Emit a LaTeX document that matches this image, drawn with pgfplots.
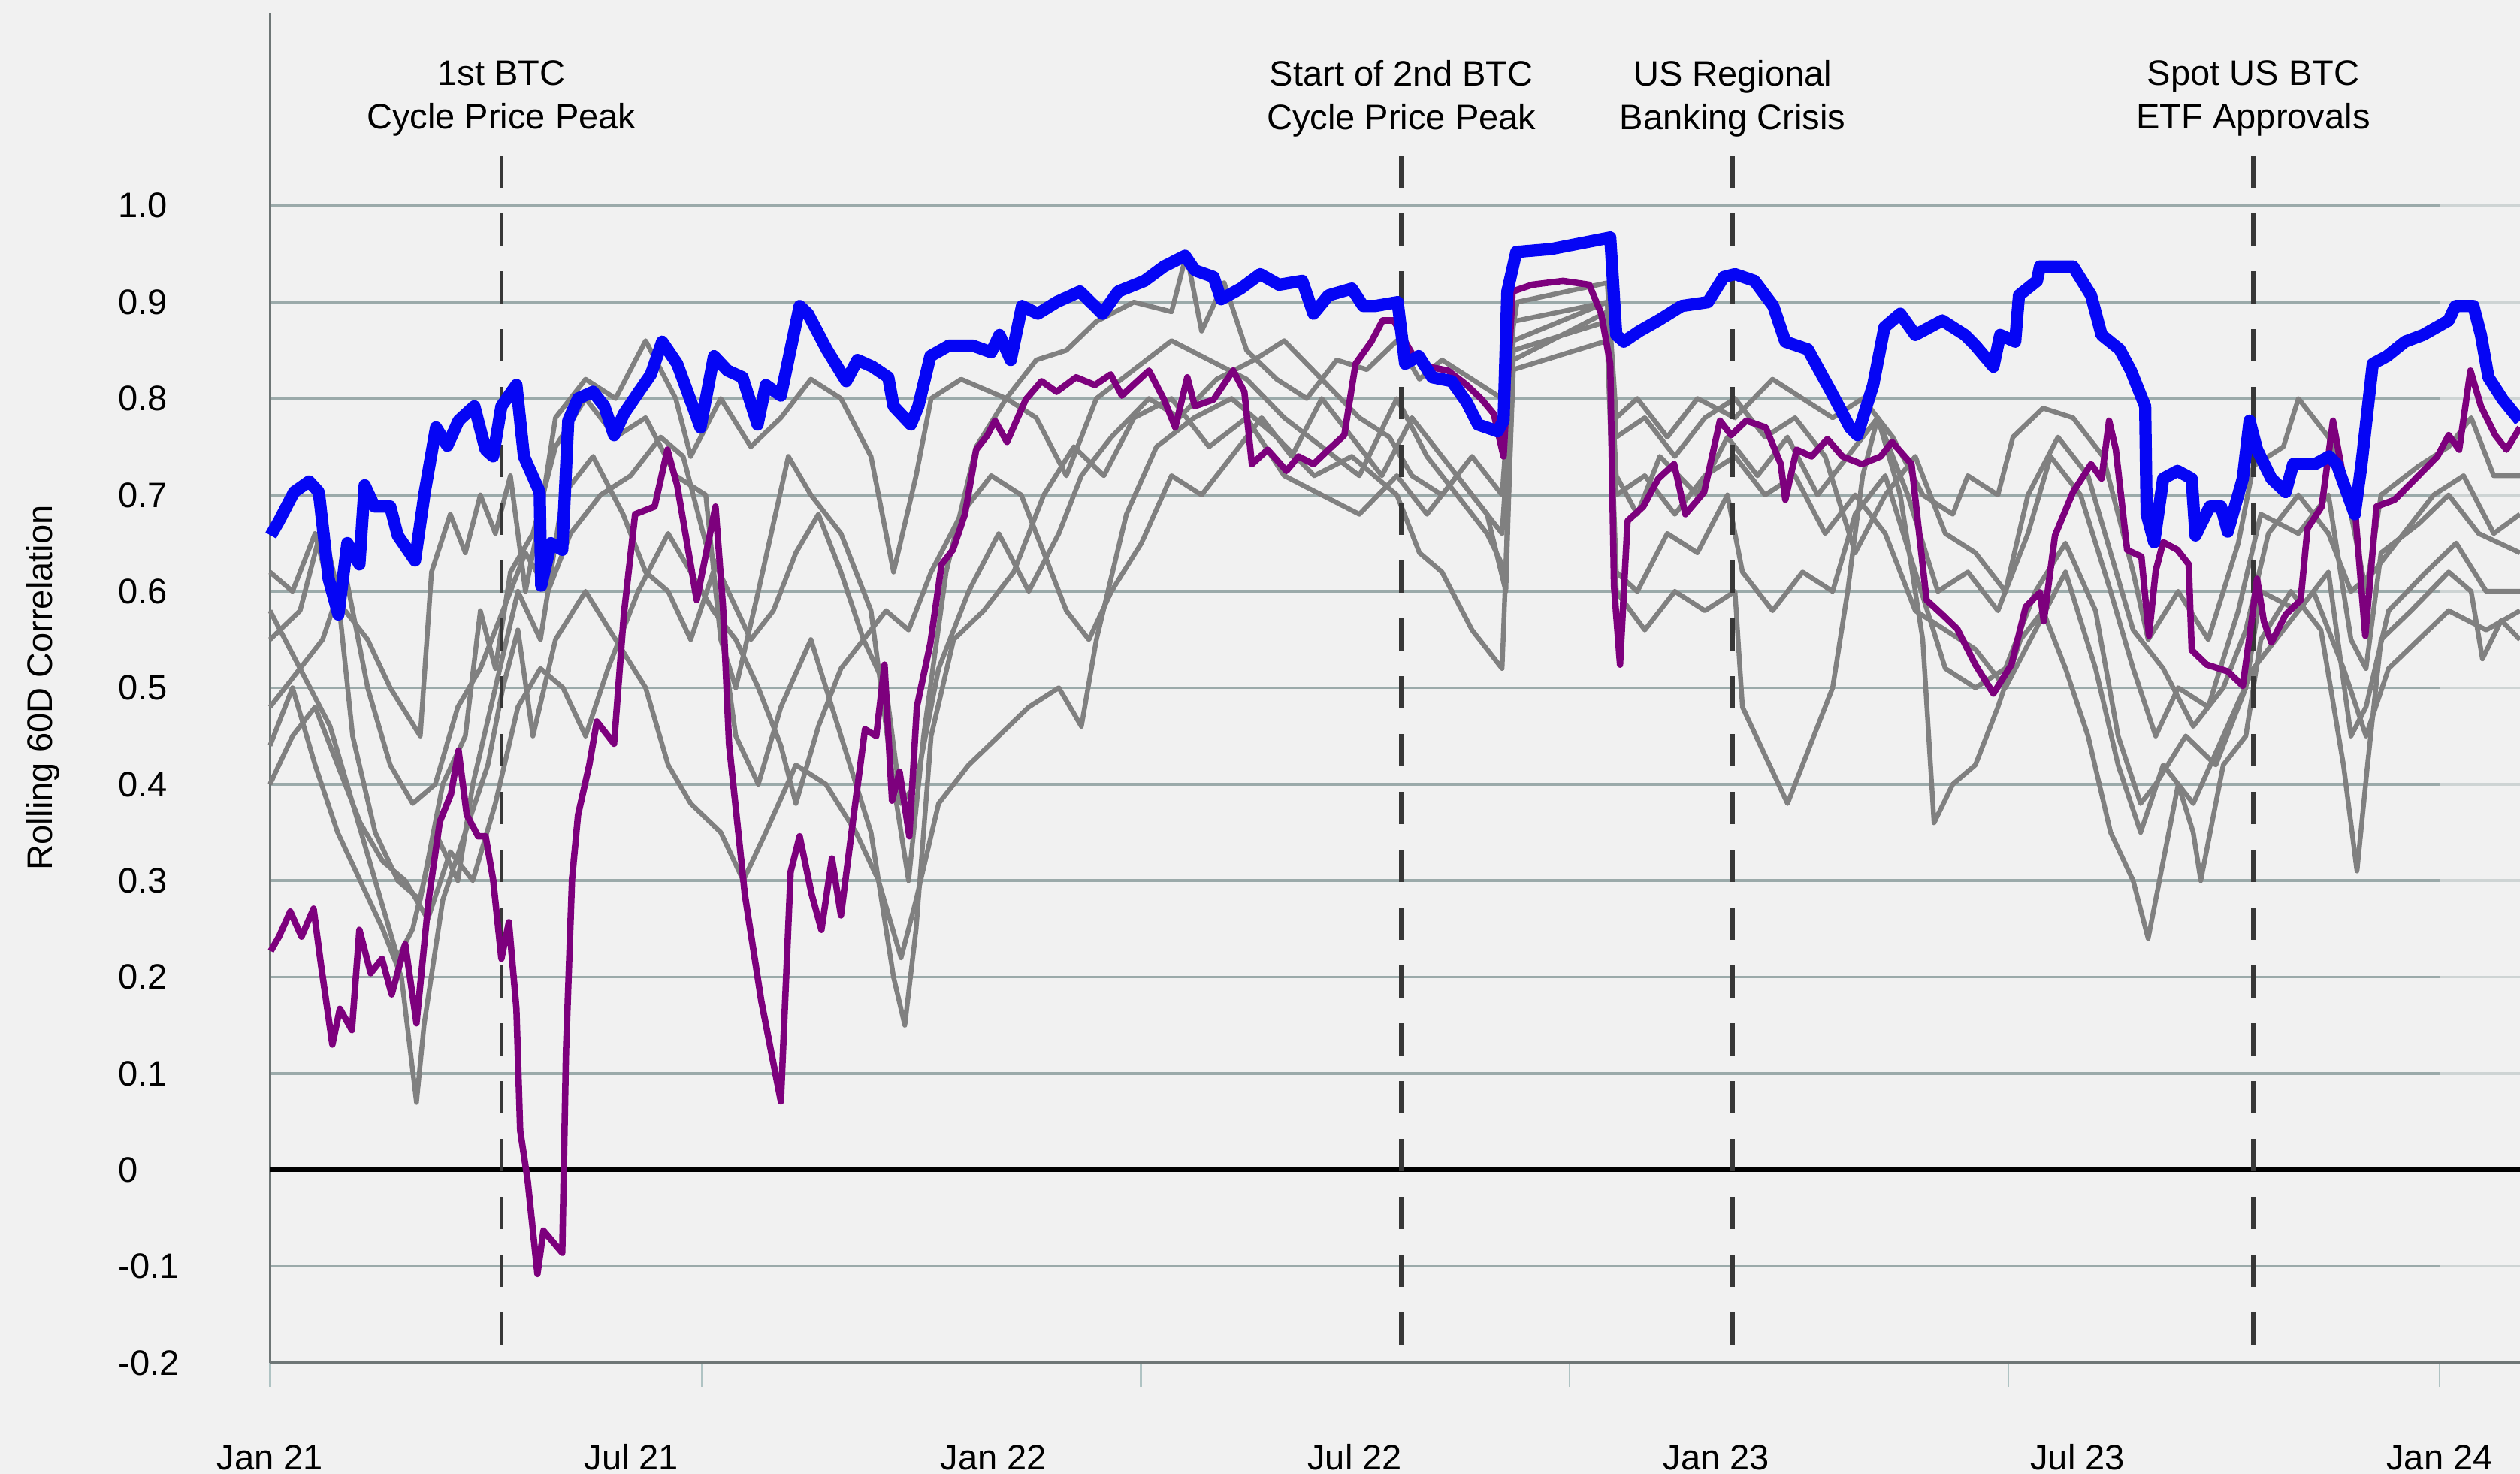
\documentclass[border=0pt]{standalone}
\usepackage{fontspec}
\setmainfont{Liberation Sans}
\usepackage{pgfplots}
\pgfplotsset{compat=1.18}

\definecolor{bgcol}{RGB}{241,241,241}
\definecolor{btcblue}{RGB}{5,5,245}
\definecolor{ethpurple}{RGB}{125,0,125}
\definecolor{altgrey}{RGB}{128,128,128}
\definecolor{gridcol}{RGB}{155,170,170}
\definecolor{tickcol}{RGB}{175,195,195}
\definecolor{axisgrey}{RGB}{110,118,118}
\definecolor{dashcol}{RGB}{55,55,55}

% x = position along the time axis (Jan 21 = 0, Jan 24 = 2888)
\pgfplotsset{
  greyline/.style={altgrey, line width=1.5pt, line join=round, no marks},
}
\tikzset{
  eventline/.style={dashcol, line width=1.3pt, dash pattern=on 10pt off 8pt},
  eventlabel/.style={font=\fontsize{11}{13.5}\selectfont, align=center, inner sep=0pt, anchor=center},
}

\begin{document}
\begin{tikzpicture}
\fill[bgcol] (0,0) rectangle (784pt,458.5pt);
\begin{axis}[
  at={(84pt,34.5pt)}, anchor=south west,
  width=700pt, height=420pt, scale only axis,
  xmin=0, xmax=2995, ymin=-0.2, ymax=1.2,
  clip=false,
  axis x line*=bottom, axis y line*=left,
  x axis line style={draw=axisgrey, line width=1.1pt, -},
  y axis line style={draw=axisgrey, line width=0.7pt, -},
  ytick={-0.2,-0.1,0,0.1,0.2,0.3,0.4,0.5,0.6,0.7,0.8,0.9,1.0},
  yticklabels={-0.2,-0.1,0,0.1,0.2,0.3,0.4,0.5,0.6,0.7,0.8,0.9,1.0},
  yticklabel style={anchor=west, inner sep=0pt, xshift=-40pt},
  y tick style={draw=none},
  ymajorgrids,
  grid style={gridcol, line width=0.9pt},
  xtick={0,575,1159,1730,2314,2888},
  xticklabels={},
  x tick style={draw=tickcol, line width=0.6pt},
  tick align=outside,
  major tick length=7.4pt,
  extra x ticks={0,481,963,1444,1925,2406,2888},
  extra x tick labels={Jan 21,Jul 21,Jan 22,Jul 22,Jan 23,Jul 23,Jan 24},
  extra x tick style={major tick length=0pt, xticklabel style={anchor=center, yshift=-29.5pt}},
  ticklabel style={font=\fontsize{11}{13}\selectfont},
  ylabel={Rolling 60D Correlation},
  ylabel style={at={(axis description cs:-0.1007,0.5)}, anchor=center, font=\fontsize{11}{13}\selectfont},
]

% fade of the grid past the last tick
\fill[bgcol, opacity=0.6] (axis cs:2888,-0.19) rectangle (axis cs:2995,1.01);
% zero line
\draw[black, line width=1.5pt] (axis cs:0,0) -- (axis cs:2995,0);

% --- other assets (grey)
\addplot[greyline] coordinates {
(0,0.62)(30,0.60)(60,0.66)(80,0.60)(100,0.58)(130,0.55)(160,0.50)(200,0.45)(215,0.62)(240,0.68)(260,0.64)(280,0.70)(300,0.66)(320,0.72)(340,0.60)(360,0.68)(380,0.78)(420,0.82)(460,0.80)(500,0.86)(540,0.80)(560,0.74)(600,0.80)(640,0.75)(680,0.78)(720,0.82)(760,0.80)(800,0.74)(830,0.62)(860,0.72)(880,0.80)(920,0.82)(980,0.80)(1020,0.84)(1060,0.85)(1100,0.88)(1150,0.90)(1200,0.89)(1220,0.95)(1240,0.87)(1270,0.92)(1300,0.85)(1340,0.82)(1380,0.80)(1420,0.84)(1460,0.83)(1500,0.86)(1530,0.82)(1560,0.84)(1600,0.82)(1640,0.80)(1660,0.90)(1780,0.92)(1792,0.78)(1820,0.80)(1860,0.76)(1900,0.80)(1950,0.78)(2000,0.82)(2040,0.80)(2080,0.78)(2120,0.80)(2160,0.76)(2200,0.70)(2240,0.68)(2260,0.72)(2300,0.70)(2320,0.76)(2360,0.79)(2400,0.78)(2440,0.74)(2480,0.62)(2500,0.55)(2540,0.60)(2580,0.55)(2620,0.65)(2640,0.73)(2680,0.75)(2700,0.80)(2740,0.76)(2760,0.72)(2790,0.60)(2810,0.70)(2860,0.73)(2900,0.75)(2930,0.78)(2960,0.72)(2995,0.72)
};
\addplot[greyline] coordinates {
(0,0.55)(40,0.58)(70,0.67)(90,0.60)(110,0.45)(140,0.35)(170,0.30)(200,0.28)(230,0.40)(260,0.45)(280,0.58)(300,0.52)(320,0.62)(350,0.66)(380,0.75)(420,0.80)(460,0.76)(500,0.78)(540,0.72)(580,0.70)(600,0.55)(620,0.50)(650,0.60)(690,0.74)(720,0.70)(760,0.66)(800,0.58)(830,0.40)(850,0.30)(870,0.45)(900,0.62)(940,0.75)(980,0.80)(1020,0.78)(1060,0.72)(1100,0.80)(1150,0.83)(1200,0.86)(1250,0.84)(1300,0.82)(1350,0.78)(1400,0.75)(1450,0.72)(1500,0.80)(1540,0.74)(1580,0.70)(1620,0.66)(1645,0.62)(1655,0.88)(1780,0.90)(1792,0.72)(1820,0.68)(1850,0.74)(1900,0.70)(1940,0.76)(1980,0.72)(2020,0.76)(2060,0.70)(2100,0.74)(2140,0.78)(2180,0.70)(2220,0.60)(2260,0.62)(2300,0.58)(2340,0.66)(2370,0.74)(2410,0.70)(2450,0.60)(2480,0.52)(2510,0.45)(2540,0.50)(2580,0.48)(2620,0.58)(2650,0.68)(2700,0.66)(2740,0.70)(2770,0.55)(2790,0.52)(2810,0.64)(2860,0.67)(2900,0.70)(2940,0.66)(2995,0.64)
};
\addplot[greyline] coordinates {
(0,0.48)(40,0.52)(80,0.46)(110,0.38)(140,0.30)(170,0.22)(190,0.25)(220,0.35)(250,0.30)(270,0.40)(300,0.50)(330,0.60)(360,0.55)(390,0.70)(430,0.74)(470,0.68)(500,0.62)(530,0.60)(560,0.55)(590,0.62)(620,0.45)(650,0.40)(680,0.48)(720,0.55)(760,0.45)(800,0.35)(830,0.20)(845,0.15)(860,0.25)(880,0.45)(910,0.55)(950,0.58)(990,0.62)(1030,0.70)(1070,0.75)(1110,0.72)(1150,0.78)(1200,0.80)(1250,0.75)(1300,0.78)(1350,0.72)(1400,0.70)(1450,0.68)(1500,0.72)(1540,0.68)(1580,0.72)(1620,0.68)(1645,0.60)(1655,0.85)(1780,0.88)(1792,0.62)(1820,0.60)(1860,0.66)(1900,0.64)(1940,0.70)(1960,0.62)(2000,0.58)(2040,0.62)(2080,0.60)(2110,0.68)(2150,0.72)(2190,0.62)(2230,0.52)(2270,0.50)(2310,0.52)(2350,0.60)(2390,0.65)(2430,0.58)(2460,0.45)(2490,0.38)(2510,0.40)(2550,0.45)(2590,0.42)(2630,0.50)(2650,0.60)(2700,0.58)(2740,0.62)(2770,0.45)(2790,0.48)(2820,0.58)(2870,0.62)(2910,0.65)(2950,0.60)(2995,0.60)
};
\addplot[greyline] coordinates {
(0,0.44)(30,0.50)(60,0.42)(90,0.35)(120,0.30)(150,0.25)(175,0.20)(195,0.07)(205,0.15)(230,0.28)(260,0.35)(290,0.42)(310,0.50)(330,0.56)(350,0.45)(380,0.55)(420,0.60)(460,0.55)(500,0.50)(530,0.42)(560,0.38)(600,0.35)(630,0.30)(660,0.35)(700,0.42)(740,0.40)(780,0.35)(810,0.30)(840,0.22)(860,0.28)(890,0.38)(930,0.42)(970,0.45)(1010,0.48)(1050,0.50)(1080,0.46)(1100,0.55)(1140,0.68)(1180,0.75)(1230,0.78)(1280,0.80)(1340,0.76)(1390,0.72)(1440,0.74)(1500,0.70)(1530,0.64)(1560,0.62)(1600,0.56)(1640,0.52)(1655,0.83)(1780,0.86)(1792,0.60)(1830,0.56)(1870,0.60)(1910,0.58)(1950,0.60)(1960,0.48)(1990,0.43)(2020,0.38)(2050,0.44)(2080,0.50)(2100,0.60)(2120,0.72)(2140,0.78)(2170,0.70)(2200,0.55)(2215,0.36)(2240,0.40)(2270,0.42)(2300,0.48)(2330,0.55)(2360,0.58)(2390,0.52)(2420,0.45)(2450,0.35)(2480,0.30)(2500,0.24)(2515,0.30)(2540,0.40)(2560,0.35)(2570,0.30)(2600,0.42)(2630,0.45)(2650,0.55)(2690,0.60)(2730,0.56)(2760,0.42)(2778,0.31)(2792,0.42)(2810,0.55)(2850,0.58)(2900,0.62)(2930,0.60)(2945,0.53)(2970,0.57)(2995,0.55)
};
\addplot[greyline] coordinates {
(0,0.40)(30,0.45)(60,0.48)(90,0.42)(120,0.36)(150,0.32)(180,0.30)(210,0.26)(240,0.33)(270,0.30)(300,0.38)(330,0.48)(360,0.52)(390,0.50)(420,0.45)(450,0.52)(490,0.60)(530,0.66)(560,0.62)(590,0.58)(620,0.55)(650,0.50)(680,0.44)(700,0.38)(730,0.46)(760,0.52)(790,0.55)(820,0.58)(850,0.56)(880,0.62)(920,0.68)(960,0.72)(1000,0.70)(1040,0.62)(1060,0.58)(1090,0.55)(1120,0.60)(1160,0.65)(1200,0.72)(1240,0.70)(1280,0.74)(1320,0.78)(1360,0.74)(1400,0.80)(1440,0.76)(1480,0.72)(1520,0.78)(1560,0.74)(1600,0.70)(1640,0.66)(1655,0.84)(1780,0.89)(1792,0.70)(1830,0.72)(1870,0.68)(1910,0.72)(1950,0.74)(1990,0.70)(2030,0.72)(2070,0.66)(2110,0.70)(2150,0.66)(2190,0.58)(2230,0.56)(2270,0.54)(2310,0.50)(2350,0.56)(2390,0.62)(2430,0.52)(2460,0.42)(2490,0.35)(2520,0.42)(2560,0.38)(2600,0.45)(2640,0.52)(2680,0.56)(2720,0.60)(2760,0.52)(2790,0.45)(2820,0.52)(2860,0.55)(2900,0.58)(2950,0.56)(2995,0.58)
};
\addplot[greyline] coordinates {
(0,0.58)(40,0.52)(70,0.55)(100,0.62)(130,0.50)(160,0.42)(190,0.38)(220,0.40)(250,0.48)(280,0.52)(310,0.58)(340,0.64)(370,0.60)(400,0.66)(440,0.70)(480,0.72)(520,0.76)(550,0.74)(580,0.65)(610,0.60)(640,0.55)(670,0.58)(700,0.64)(730,0.68)(760,0.62)(790,0.55)(820,0.50)(840,0.38)(860,0.40)(890,0.52)(930,0.60)(970,0.66)(1010,0.60)(1050,0.66)(1080,0.72)(1120,0.76)(1170,0.80)(1210,0.78)(1260,0.82)(1310,0.84)(1350,0.86)(1400,0.82)(1450,0.78)(1490,0.76)(1520,0.72)(1560,0.70)(1600,0.74)(1640,0.70)(1655,0.86)(1780,0.90)(1792,0.76)(1830,0.78)(1870,0.74)(1910,0.78)(1950,0.80)(1990,0.76)(2030,0.78)(2070,0.74)(2110,0.64)(2150,0.70)(2190,0.74)(2230,0.66)(2270,0.64)(2310,0.60)(2340,0.70)(2380,0.76)(2420,0.72)(2450,0.64)(2480,0.56)(2520,0.52)(2560,0.46)(2600,0.50)(2630,0.56)(2660,0.66)(2700,0.70)(2740,0.66)(2770,0.60)(2800,0.62)(2840,0.66)(2880,0.70)(2920,0.72)(2960,0.66)(2995,0.68)
};

% --- event markers
\draw[eventline] (axis cs:308,1.052) -- (axis cs:308,-0.2);
\draw[eventline] (axis cs:1506,1.052) -- (axis cs:1506,-0.2);
\draw[eventline] (axis cs:1947,1.052) -- (axis cs:1947,-0.2);
\draw[eventline] (axis cs:2640,1.052) -- (axis cs:2640,-0.2);
\node[eventlabel] at (axis cs:308,1.111) {1st BTC\\Cycle Price Peak};
\node[eventlabel] at (axis cs:1506,1.111) {Start of 2nd BTC\\Cycle Price Peak};
\node[eventlabel] at (axis cs:1947,1.111) {US Regional\\Banking Crisis};
\node[eventlabel] at (axis cs:2640,1.111) {Spot US BTC\\ETF Approvals};

% --- purple
\addplot[ethpurple, line width=2pt, line join=round, no marks] coordinates {
(1,0.227)(12,0.242)(27,0.268)(42,0.242)(58,0.271)(68,0.212)(83,0.130)(93,0.167)(109,0.145)(119,0.249)(134,0.204)(149,0.219)(162,0.182)(180,0.234)(195,0.152)(211,0.279)(226,0.361)(241,0.390)(251,0.435)(262,0.368)(277,0.346)(287,0.346)(297,0.301)(308,0.219)(318,0.257)(328,0.167)(333,0.041)(343,-0.011)(356,-0.108)(364,-0.063)(389,-0.086)(394,0.123)(402,0.301)(410,0.368)(425,0.420)(435,0.465)(458,0.442)(471,0.576)(486,0.680)(512,0.688)(529,0.747)(542,0.710)(568,0.591)(593,0.688)(603,0.584)(611,0.442)(632,0.286)(654,0.175)(680,0.071)(693,0.309)(705,0.346)(721,0.286)(734,0.249)(748,0.323)(760,0.264)(777,0.368)(792,0.457)(807,0.450)(818,0.524)(828,0.383)(838,0.413)(851,0.346)(861,0.480)(879,0.546)(894,0.628)(909,0.643)(925,0.680)(940,0.747)(955,0.762)(965,0.777)(981,0.755)(1006,0.799)(1027,0.818)(1047,0.807)(1073,0.822)(1098,0.814)(1119,0.825)(1134,0.803)(1149,0.814)(1170,0.829)(1190,0.799)(1205,0.770)(1221,0.822)(1231,0.792)(1256,0.799)(1282,0.829)(1297,0.807)(1307,0.732)(1328,0.747)(1353,0.725)(1369,0.740)(1389,0.732)(1409,0.747)(1430,0.762)(1445,0.836)(1466,0.859)(1481,0.881)(1496,0.881)(1506,0.866)(1522,0.844)(1542,0.833)(1568,0.829)(1593,0.814)(1613,0.799)(1629,0.784)(1642,0.740)(1654,0.911)(1680,0.918)(1721,0.922)(1756,0.918)(1772,0.888)(1784,0.836)(1789,0.606)(1797,0.524)(1807,0.673)(1828,0.688)(1848,0.717)(1869,0.732)(1884,0.680)(1909,0.703)(1930,0.777)(1945,0.762)(1965,0.777)(1991,0.770)(2011,0.732)(2017,0.695)(2032,0.747)(2052,0.740)(2073,0.758)(2093,0.740)(2119,0.732)(2144,0.740)(2159,0.755)(2185,0.732)(2205,0.591)(2226,0.576)(2246,0.561)(2270,0.524)(2294,0.494)(2318,0.524)(2337,0.584)(2356,0.599)(2361,0.569)(2376,0.658)(2400,0.703)(2424,0.732)(2438,0.717)(2448,0.777)(2457,0.747)(2472,0.643)(2491,0.636)(2501,0.554)(2510,0.621)(2520,0.651)(2539,0.643)(2554,0.628)(2558,0.539)(2578,0.524)(2606,0.517)(2626,0.502)(2635,0.554)(2645,0.613)(2654,0.569)(2664,0.547)(2683,0.576)(2703,0.591)(2712,0.665)(2731,0.688)(2746,0.777)(2760,0.717)(2775,0.688)(2789,0.554)(2804,0.688)(2828,0.695)(2856,0.717)(2885,0.740)(2900,0.762)(2914,0.747)(2929,0.829)(2943,0.792)(2962,0.762)(2977,0.747)(2995,0.770)
};

% --- blue
\addplot[btcblue, line width=3.8pt, line join=round, no marks] coordinates {
(1,0.658)(12,0.673)(32,0.703)(52,0.714)(65,0.703)(78,0.613)(91,0.576)(103,0.650)(119,0.628)(126,0.710)(139,0.688)(160,0.688)(170,0.658)(193,0.632)(206,0.703)(221,0.770)(236,0.751)(251,0.777)(272,0.792)(287,0.747)(297,0.740)(308,0.792)(328,0.814)(338,0.740)(359,0.703)(361,0.606)(374,0.650)(389,0.643)(397,0.777)(410,0.800)(430,0.807)(445,0.792)(458,0.762)(471,0.784)(491,0.807)(507,0.825)(522,0.859)(542,0.836)(573,0.770)(591,0.844)(609,0.829)(629,0.822)(649,0.773)(660,0.814)(680,0.803)(705,0.896)(716,0.888)(741,0.851)(767,0.818)(782,0.840)(802,0.833)(823,0.822)(830,0.792)(853,0.773)(863,0.792)(879,0.844)(904,0.855)(935,0.855)(960,0.848)(971,0.866)(986,0.840)(1001,0.896)(1022,0.888)(1047,0.900)(1078,0.911)(1108,0.888)(1129,0.911)(1164,0.922)(1190,0.937)(1218,0.948)(1231,0.933)(1256,0.926)(1266,0.903)(1292,0.914)(1318,0.929)(1343,0.918)(1374,0.922)(1389,0.888)(1409,0.907)(1440,0.914)(1455,0.896)(1471,0.896)(1501,0.900)(1511,0.836)(1529,0.844)(1547,0.822)(1573,0.818)(1593,0.796)(1608,0.773)(1634,0.766)(1642,0.777)(1647,0.911)(1659,0.952)(1705,0.955)(1784,0.967)(1792,0.866)(1802,0.859)(1823,0.870)(1848,0.881)(1879,0.896)(1914,0.900)(1935,0.926)(1950,0.929)(1976,0.922)(2001,0.896)(2017,0.859)(2047,0.851)(2078,0.807)(2103,0.770)(2113,0.762)(2134,0.814)(2149,0.874)(2170,0.888)(2190,0.866)(2226,0.881)(2256,0.866)(2270,0.855)(2294,0.833)(2303,0.866)(2323,0.859)(2328,0.907)(2352,0.922)(2356,0.937)(2400,0.937)(2424,0.907)(2438,0.866)(2462,0.851)(2477,0.829)(2496,0.792)(2498,0.680)(2508,0.651)(2520,0.717)(2539,0.725)(2558,0.717)(2563,0.658)(2582,0.688)(2597,0.688)(2606,0.662)(2626,0.717)(2635,0.777)(2645,0.747)(2664,0.717)(2683,0.703)(2693,0.732)(2722,0.732)(2741,0.740)(2751,0.732)(2775,0.680)(2784,0.732)(2799,0.836)(2818,0.844)(2842,0.859)(2866,0.866)(2900,0.881)(2909,0.896)(2933,0.896)(2943,0.866)(2953,0.822)(2972,0.799)(2995,0.777)
};
\end{axis}
\pgfresetboundingbox
\useasboundingbox (0,0) rectangle (784pt,458.5pt);
\end{tikzpicture}
\end{document}
